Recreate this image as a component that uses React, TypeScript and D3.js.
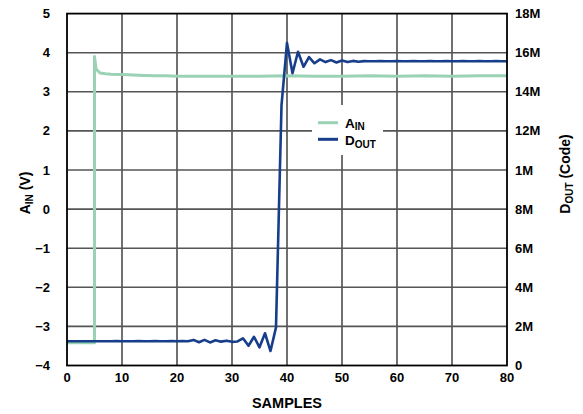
import React from "react";
import * as d3 from "d3";

const xTicks = [0, 10, 20, 30, 40, 50, 60, 70, 80];
const leftTicks = [5, 4, 3, 2, 1, 0, -1, -2, -3, -4];
const leftTickLabels = ["5", "4", "3", "2", "1", "0", "\u22121", "\u22122", "\u22123", "\u22124"];
const rightTicks = [0, 2, 4, 6, 8, 10, 12, 14, 16, 18];
const rightTickLabels = ["0", "2M", "4M", "6M", "8M", "1M", "12M", "14M", "16M", "18M"];

// A_IN (V)
const ainSamples = [0, 1, 2, 3, 4, 5, 5, 5.3, 6, 7, 8, 10, 12, 14, 16, 18, 20, 25, 30, 35, 40, 45, 50, 55, 60, 65, 70, 75, 80];
const ainValues = [-3.42, -3.42, -3.42, -3.42, -3.42, -3.42, 3.9, 3.58, 3.48, 3.46, 3.45, 3.44, 3.43, 3.42, 3.41, 3.41, 3.4, 3.4, 3.4, 3.4, 3.41, 3.4, 3.4, 3.41, 3.4, 3.41, 3.4, 3.41, 3.41];

// D_OUT (M codes), one value per sample 0..80
const doutSamples = [
  0, 1, 2, 3, 4, 5, 6, 7, 8, 9, 10, 11, 12, 13, 14, 15, 16, 17, 18, 19, 20,
  21, 22, 23, 24, 25, 26, 27, 28, 29, 30, 31, 32, 33, 34, 35, 36, 37, 38, 39, 40,
  41, 42, 43, 44, 45, 46, 47, 48, 49, 50, 51, 52, 53, 54, 55, 56, 57, 58, 59, 60,
  61, 62, 63, 64, 65, 66, 67, 68, 69, 70, 71, 72, 73, 74, 75, 76, 77, 78, 79, 80,
];
const doutValues = [
  1.24, 1.24, 1.24, 1.24, 1.24, 1.24, 1.24, 1.24, 1.24, 1.25, 1.24, 1.24, 1.24, 1.25, 1.24, 1.24, 1.25, 1.24, 1.24, 1.25, 1.24,
  1.25, 1.24, 1.31, 1.19, 1.31, 1.18, 1.29, 1.22, 1.27, 1.21, 1.23, 1.39, 1.01, 1.47, 0.93, 1.65, 0.74, 1.95, 13.3, 16.5,
  14.95, 16.05, 15.28, 15.77, 15.46, 15.66, 15.52, 15.62, 15.5, 15.6, 15.52, 15.58, 15.54, 15.57, 15.56, 15.56, 15.57, 15.56, 15.56, 15.57,
  15.56, 15.56, 15.57, 15.56, 15.56, 15.57, 15.56, 15.56, 15.57, 15.56, 15.56, 15.57, 15.56, 15.56, 15.57, 15.56, 15.56, 15.57, 15.56, 15.56,
];

const W = 583;
const H = 414;
const left = 67;
const right = 507;
const top = 13.6;
const bottom = 365.5;

const GREEN = "#99d2b4";
const BLUE = "#173e8a";
const FONT = "Liberation Sans, Arial, Helvetica, sans-serif";

export default function App() {
  const x = d3.scaleLinear().domain([0, 80]).range([left, right]);
  const yL = d3.scaleLinear().domain([-4, 5]).range([bottom, top]);
  const yR = d3.scaleLinear().domain([0, 18]).range([bottom, top]);

  const ainData = ainSamples.map((s, i) => [s, ainValues[i]] as [number, number]);
  const doutData = doutSamples.map((s, i) => [s, doutValues[i]] as [number, number]);

  const ainLine = d3
    .line<[number, number]>()
    .x((d) => x(d[0]))
    .y((d) => yL(d[1]));
  const doutLine = d3
    .line<[number, number]>()
    .x((d) => x(d[0]))
    .y((d) => yR(d[1]));

  return (
    <svg
      width={W}
      height={H}
      style={{ position: "absolute", left: 0, top: 0, background: "#fff" }}
      fontFamily={FONT}
    >
      <rect x={0} y={0} width={W} height={H} fill="#fff" />
      {/* grid */}
      {xTicks.slice(1, -1).map((t) => (
        <line key={"gx" + t} x1={x(t)} x2={x(t)} y1={top} y2={bottom} stroke="#111" strokeWidth={1.2} />
      ))}
      {leftTicks.slice(1, -1).map((t) => (
        <line key={"gy" + t} x1={left} x2={right} y1={yL(t)} y2={yL(t)} stroke="#555" strokeWidth={1.6} />
      ))}
      {/* legend background */}
      <rect x={312} y={105} width={71} height={50} fill="#fff" />
      {/* series */}
      <path d={ainLine(ainData) || ""} fill="none" stroke={GREEN} strokeWidth={3} strokeLinejoin="round" />
      <path d={doutLine(doutData) || ""} fill="none" stroke={BLUE} strokeWidth={2.6} strokeLinejoin="round" />
      {/* frame */}
      <rect x={left} y={top} width={right - left} height={bottom - top} fill="none" stroke="#000" strokeWidth={1.8} />
      {/* x tick labels */}
      {xTicks.map((t) => (
        <text key={"xt" + t} x={x(t)} y={382} textAnchor="middle" fontSize={13} fontWeight="bold" fill="#000">
          {t}
        </text>
      ))}
      {/* left tick labels */}
      {leftTicks.map((t, i) => (
        <text key={"lt" + t} x={50} y={yL(t) + 4.5} textAnchor="end" fontSize={13} fontWeight="bold" fill="#000">
          {leftTickLabels[i]}
        </text>
      ))}
      {/* right tick labels */}
      {rightTicks.map((t, i) => (
        <text key={"rt" + t} x={515} y={yR(t) + 4.5} textAnchor="start" fontSize={13} fontWeight="bold" fill="#000">
          {rightTickLabels[i]}
        </text>
      ))}
      {/* axis titles */}
      <text x={287} y={408} textAnchor="middle" fontSize={14.5} fontWeight="bold" fill="#000">
        SAMPLES
      </text>
      <text transform="translate(30,193) rotate(-90)" textAnchor="middle" fontSize={14} fontWeight="bold" fill="#000">
        A<tspan fontSize={10} dy={3}>IN</tspan>
        <tspan dy={-3}> (V)</tspan>
      </text>
      <text transform="translate(570,174) rotate(-90)" textAnchor="middle" fontSize={14} fontWeight="bold" fill="#000">
        D<tspan fontSize={10} dy={3}>OUT</tspan>
        <tspan dy={-3}> (Code)</tspan>
      </text>
      {/* legend */}
      <line x1={318} x2={338} y1={122.7} y2={122.7} stroke={GREEN} strokeWidth={3} />
      <line x1={318} x2={338} y1={139.3} y2={139.3} stroke={BLUE} strokeWidth={3} />
      <text x={345} y={127.5} fontSize={13.5} fontWeight="bold" fill="#000">
        A<tspan fontSize={10} dy={2.5}>IN</tspan>
      </text>
      <text x={345} y={145} fontSize={13.5} fontWeight="bold" fill="#000">
        D<tspan fontSize={10} dy={2.5}>OUT</tspan>
      </text>
    </svg>
  );
}
